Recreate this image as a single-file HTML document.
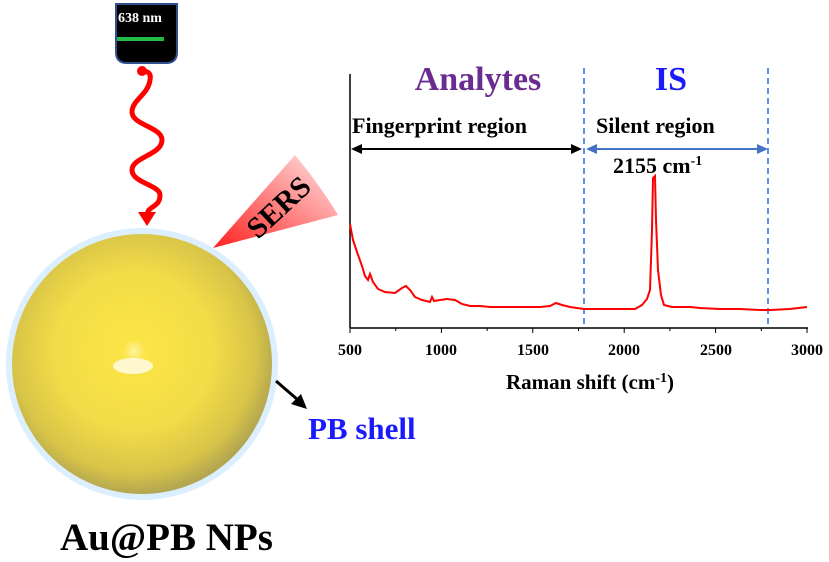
<!DOCTYPE html>
<html><head><style>
body{margin:0;background:#fff}
svg{display:block}
text{font-family:"Liberation Serif",serif;font-weight:bold}
</style></head><body>
<svg width="829" height="562" viewBox="0 0 829 562" xmlns="http://www.w3.org/2000/svg">
<defs>
<radialGradient id="g" cx="0.47" cy="0.45" r="0.55">
<stop offset="0" stop-color="#fff3a0"/>
<stop offset="0.08" stop-color="#fbe446"/>
<stop offset="0.55" stop-color="#f2dc48"/>
<stop offset="0.85" stop-color="#d8c448"/>
<stop offset="1" stop-color="#b3a650"/>
</radialGradient>
<linearGradient id="s" x1="0" y1="1" x2="1" y2="0">
<stop offset="0" stop-color="#ff2020"/>
<stop offset="1" stop-color="#ffe8e8"/>
</linearGradient>
</defs>
<!-- laser -->
<path d="M116,4 H177 V52 Q177,63 166,63 H127 Q116,63 116,52 Z" fill="#000" stroke="#2f4f8f" stroke-width="2"/>
<text x="118" y="22" font-size="14" fill="#fff">638 nm</text>
<rect x="117" y="37" width="47" height="4" fill="#22bb44"/>
<circle cx="142" cy="71" r="5" fill="#f00"/>
<path d="M142,71 Q152,71 150,80 C148,95 132,100 132,112 C132,125 162,127 162,140 C162,155 132,157 132,170 C132,183 160,185 160,195 C160,208 148,205 147,215" fill="none" stroke="#f00" stroke-width="5"/>
<path d="M138,212 L156,212 L147,226 Z" fill="#f00"/>
<!-- SERS cone -->
<path d="M213,248 L295,155 Q320,185 338,215 Z" fill="url(#s)"/>
<text x="0" y="0" font-size="30" fill="#000" transform="translate(258,240) rotate(-43)">SERS</text>
<!-- sphere -->
<circle cx="142" cy="364" r="136" fill="#dcefff"/>
<circle cx="142" cy="364" r="130" fill="url(#g)"/>
<ellipse cx="133" cy="366" rx="20" ry="8" fill="#fffbe8" opacity="0.85"/>
<line x1="276" y1="381" x2="298" y2="400" stroke="#000" stroke-width="3"/>
<path d="M307,409 L291,404 L301,394 Z" fill="#000"/>
<text x="308" y="439" font-size="31" fill="#1a1aff">PB shell</text>
<text x="60" y="550" font-size="39" fill="#000">Au@PB NPs</text>
<!-- chart -->
<line x1="350" y1="74" x2="350" y2="328" stroke="#000" stroke-width="1.5"/>
<line x1="350" y1="328" x2="808" y2="328" stroke="#000" stroke-width="1.5"/>
<g stroke="#000" stroke-width="1">
<line x1="350" y1="328" x2="350" y2="333"/><line x1="395.7" y1="328" x2="395.7" y2="331"/>
<line x1="441.4" y1="328" x2="441.4" y2="333"/><line x1="487.1" y1="328" x2="487.1" y2="331"/>
<line x1="532.8" y1="328" x2="532.8" y2="333"/><line x1="578.5" y1="328" x2="578.5" y2="331"/>
<line x1="624.2" y1="328" x2="624.2" y2="333"/><line x1="669.9" y1="328" x2="669.9" y2="331"/>
<line x1="715.6" y1="328" x2="715.6" y2="333"/><line x1="761.3" y1="328" x2="761.3" y2="331"/>
<line x1="807" y1="328" x2="807" y2="333"/>
</g>
<g font-size="16" text-anchor="middle" fill="#000">
<text x="350" y="355">500</text><text x="441" y="355">1000</text><text x="533" y="355">1500</text>
<text x="624" y="355">2000</text><text x="716" y="355">2500</text><text x="807" y="355">3000</text>
</g>
<text x="590" y="389" font-size="21" text-anchor="middle">Raman shift (cm<tspan dy="-7" font-size="14">-1</tspan><tspan dy="7">)</tspan></text>
<line x1="584" y1="68" x2="584" y2="328" stroke="#2a6adf" stroke-width="1.5" stroke-dasharray="6,4"/>
<line x1="768" y1="68" x2="768" y2="328" stroke="#2a6adf" stroke-width="1.5" stroke-dasharray="6,4"/>
<text x="478" y="90" font-size="34" fill="#6a2c91" text-anchor="middle">Analytes</text>
<text x="671" y="90" font-size="34" fill="#1a1aff" text-anchor="middle">IS</text>
<text x="352" y="133" font-size="22">Fingerprint region</text>
<text x="596" y="133" font-size="22">Silent region</text>
<line x1="356" y1="149" x2="576" y2="149" stroke="#000" stroke-width="2"/>
<path d="M351,149 L362,144 L362,154 Z M582,149 L571,144 L571,154 Z" fill="#000"/>
<line x1="592" y1="149" x2="762" y2="149" stroke="#4472c4" stroke-width="2"/>
<path d="M586,149 L597,144 L597,154 Z M768,149 L757,144 L757,154 Z" fill="#4472c4"/>
<text x="613" y="173" font-size="22">2155 cm<tspan dy="-8" font-size="14">-1</tspan></text>
<polyline fill="none" stroke="#f00" stroke-width="2" points="350,224 353,240 357,252 362,266 365,276 368,280 370,274 373,282 378,289 385,292 395,293 402,288 406,286 410,290 415,297 422,300 430,302 432,297 434,301 440,300 447,299 455,300 462,304 470,306 480,306 490,307 500,307 520,307 540,307 550,306 556,303 562,305 570,307 584,309 600,309 620,309 635,309 642,305 647,299 650,290 652,230 653,178 655,176 656,220 658,270 661,295 664,305 672,307 690,307 700,308 720,309 740,309 760,310 770,310 790,309 807,307"/>
</svg>
</body></html>
